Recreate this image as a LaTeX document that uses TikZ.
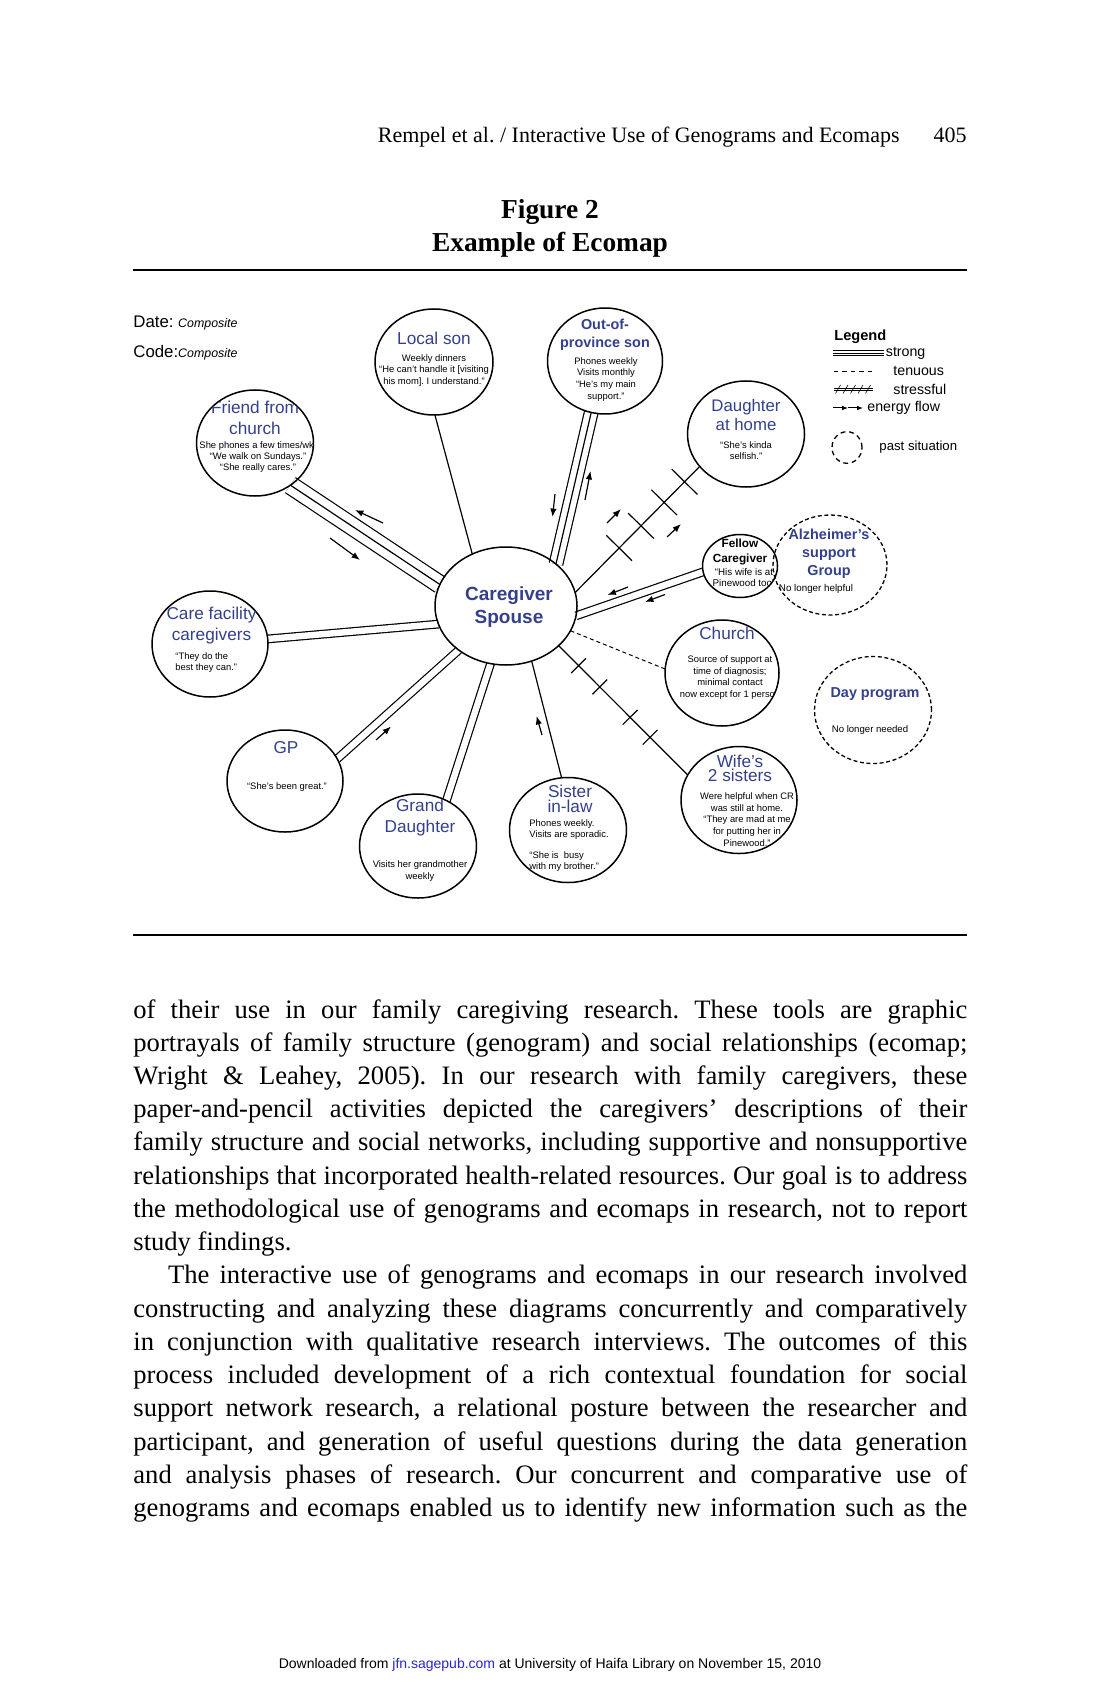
\documentclass[tikz,border=0pt]{standalone}
\usepackage{fontspec}
\setmainfont{Liberation Serif}
\newfontfamily\arial{Liberation Sans}
\usetikzlibrary{shapes.geometric,arrows.meta,decorations.markings,backgrounds}
\definecolor{nb}{RGB}{52,64,140}
\definecolor{linkblue}{RGB}{40,40,200}
\frenchspacing
\tikzset{
  circ/.style={draw, ellipse, line width=0.75pt, inner sep=0pt, outer sep=0pt},
  pastc/.style={circ, line width=0.65pt, dash pattern=on 2pt off 1.3pt},
  conn/.style={line width=0.6pt},
  dbl/.style={conn, double, double distance=3.2pt},
  tenu/.style={line width=0.5pt, dash pattern=on 2pt off 1.5pt},
  flow/.style={line width=0.6pt, -{Latex[length=4.2pt,width=3.2pt]}},
  ttl/.style={font=\arial\fontsize{8.6}{10.2}\selectfont, text=nb, inner sep=0pt, align=center},
  bttl/.style={font=\arial\bfseries\fontsize{7.2}{9}\selectfont, text=nb, inner sep=0pt, align=center},
  sml/.style={font=\arial\fontsize{4.7}{5.8}\selectfont, inner sep=0pt, align=center},
  lgd/.style={font=\arial\fontsize{7.1}{8}\selectfont, inner sep=0pt, anchor=west},
}
\begin{document}
\begin{tikzpicture}[x=0.5pt,y=-0.5pt]
\useasboundingbox (0,0) rectangle (1100,1700);
\begin{scope}[on background layer]
\fill[white] (0,0) rectangle (1100,1700);
\end{scope}

% ---------- page header ----------
\node[anchor=base east, inner sep=0pt, font=\fontsize{11}{13}\selectfont] (hd) at (900,143) {Rempel et al. / Interactive Use of Genograms and Ecomaps};
\node[anchor=base east, inner sep=0pt, font=\fontsize{11}{13}\selectfont] (pg) at (967,143) {405};
\node[anchor=base, inner sep=0pt, font=\bfseries\fontsize{13.7}{16}\selectfont] (fg) at (550,219) {Figure 2};
\node[anchor=base, inner sep=0pt, font=\bfseries\fontsize{13.7}{16}\selectfont] (fgt) at (550,252) {Example of Ecomap};
\draw[line width=1pt] (133,270) -- (967,270);
\draw[line width=1pt] (133,935) -- (967,935);

% ---------- date / code ----------
\node[anchor=west, inner sep=0pt, font=\arial\fontsize{8.4}{10}\selectfont] (dt) at (133,323) {Date: {\itshape\fontsize{6.2}{7}\selectfont Composite}};
\node[anchor=west, inner sep=0pt, font=\arial\fontsize{8.4}{10}\selectfont] (cd) at (133,353) {Code:{\itshape\fontsize{6.2}{7}\selectfont Composite}};

% ---------- circles ----------
\node[circ, minimum width=59pt, minimum height=53pt] (ls) at (434,362) {};
\begin{scope}
\clip (434,362) ellipse [x radius=29.3pt, y radius=26.3pt];
\node[ttl] (lsT) at (434,338) {Local son};
\node[sml] (lsS) at (434,370.5) {Weekly dinners\\“He can’t handle it [visiting\\his mom]. I understand.”};
\end{scope}

\node[circ, minimum width=57.5pt, minimum height=53pt] (op) at (605,361) {};
\begin{scope}
\clip (605,361) ellipse [x radius=28.6pt, y radius=26.3pt];
\node[bttl, font=\arial\bfseries\fontsize{7.2}{9.2}\selectfont] (opT) at (605,334.5) {Out-of-\\province son};
\node[sml, font=\arial\fontsize{4.7}{5.95}\selectfont] (opS) at (606,379.5) {Phones weekly\\Visits monthly\\“He’s my main\\support.”};
\end{scope}

\node[circ, minimum width=58.5pt, minimum height=53pt] (dh) at (746,434) {};
\begin{scope}
\clip (746,434) ellipse [x radius=29.1pt, y radius=26.3pt];
\node[ttl, font=\arial\fontsize{8.4}{9.5}\selectfont] (dhT) at (746,414.5) {Daughter\\at home};
\node[sml] (dhS) at (746,450.5) {“She’s kinda\\selfish.”};
\end{scope}

\node[circ, minimum width=58.5pt, minimum height=53pt] (fr) at (255,443) {};
\begin{scope}
\clip (255,443) ellipse [x radius=29.1pt, y radius=26.3pt];
\node[ttl] (frT) at (255,418) {Friend from\\church};
\node[sml, font=\arial\fontsize{4.7}{5.5}\selectfont] (frS) at (258,457) {She phones a few times/wk.\\“We walk on Sundays.”\\“She really cares.”};
\end{scope}

\node[circ, minimum width=71pt, minimum height=59pt] (cg) at (506,606) {};
\node[bttl, font=\arial\bfseries\fontsize{9.5}{11.5}\selectfont] (cgT) at (509,607.5) {Caregiver\\Spouse};

\node[circ, minimum width=58pt, minimum height=53pt] (cf) at (210,644) {};
\begin{scope}
\clip (210,644) ellipse [x radius=28.8pt, y radius=26.3pt];
\node[ttl, font=\arial\fontsize{8.6}{10.5}\selectfont] (cfT) at (211.5,625.5) {Care facility\\caregivers};
\node[sml, anchor=west, align=left] (cfS) at (175,662.5) {“They do the\\best they can.”};
\end{scope}

\node[circ, minimum width=58pt, minimum height=51pt] (gp) at (285,781) {};
\begin{scope}
\clip (285,781) ellipse [x radius=28.8pt, y radius=25.3pt];
\node[ttl] (gpT) at (286,748) {GP};
\node[sml] (gpS) at (287,787) {“She’s been great.”};
\end{scope}

\node[circ, minimum width=58.5pt, minimum height=52pt] (gd) at (418,846) {};
\begin{scope}
\clip (418,846) ellipse [x radius=29.1pt, y radius=25.8pt];
\node[ttl, font=\arial\fontsize{8.6}{10.5}\selectfont] (gdT) at (420,817.5) {Grand\\Daughter};
\node[sml, font=\arial\fontsize{4.7}{6}\selectfont] (gdS) at (420,871) {Visits her grandmother\\weekly};
\end{scope}

\node[circ, minimum width=58.5pt, minimum height=52.5pt] (si) at (568,830) {};
\begin{scope}
\clip (568,830) ellipse [x radius=29.1pt, y radius=26pt];
\node[ttl, font=\arial\fontsize{8.6}{7.5}\selectfont] (siT) at (570,798.5) {Sister\\in-law};
\node[sml, font=\arial\fontsize{4.7}{5.4}\selectfont, anchor=west, align=left] (siS) at (529,845.5) {Phones weekly.\\Visits are sporadic.\\[5.4pt]“She is\ \ busy\\with my brother.”};
\end{scope}

\node[circ, minimum width=58pt, minimum height=53.5pt] (wf) at (739,800) {};
\begin{scope}
\clip (739,800) ellipse [x radius=28.8pt, y radius=26.5pt];
\node[ttl, font=\arial\fontsize{8.6}{7}\selectfont] (wfT) at (740,768) {Wife’s\\2 sisters};
\node[sml, font=\arial\fontsize{4.7}{5.9}\selectfont] (wfS) at (747,819.5) {Were helpful when CR\\was still at home.\\“They are mad at me\\for putting her in\\Pinewood.”};
\end{scope}

\node[circ, minimum width=57pt, minimum height=53pt] (ch) at (722,673) {};
\begin{scope}
\clip (722,673) ellipse [x radius=28.3pt, y radius=26.3pt];
\node[ttl] (chT) at (727,633) {Church};
\node[sml] (chS) at (730,677.5) {Source of support at\\time of diagnosis;\\minimal contact\\now except for 1 person};
\end{scope}

\node[circ, minimum width=37.5pt, minimum height=31.5pt] (fc) at (740,566) {};
\begin{scope}
\clip (740,566) ellipse [x radius=18.6pt, y radius=15.6pt];
\node[inner sep=0pt, align=center, font=\arial\bfseries\fontsize{5.9}{7.5}\selectfont] (fcT) at (740,551.5) {Fellow\\Caregiver};
\node[sml, font=\arial\fontsize{4.9}{5.5}\selectfont] (fcS) at (744,577.5) {“His wife is at\\Pinewood too”};
\end{scope}

\node[pastc, minimum width=57pt, minimum height=50pt] (az) at (830,565) {};
\begin{scope}
\clip (830,565) ellipse [x radius=28.4pt, y radius=24.9pt];
\node[bttl] (azT) at (829,554) {Alzheimer’s\\support\\Group};
\node[sml, font=\arial\fontsize{4.9}{5.8}\selectfont] (azS) at (816,589) {No longer helpful};
\end{scope}

\node[pastc, minimum width=58.5pt, minimum height=53.5pt] (dp) at (873,710) {};
\node[bttl] (dpT) at (875,694) {Day program};
\node[sml, font=\arial\fontsize{4.8}{5.8}\selectfont] (dpS) at (870,730) {No longer needed};

% ---------- connectors ----------
\begin{scope}[on background layer]
\draw[conn] (ls.-89) -- (cg.123);
\draw[conn, double, double distance=6.2pt] (op.-105) -- (cg.40.7);
\draw[conn] (op.-105) -- (cg.40.7);
\draw[conn, double, double distance=8.4pt] (fr.-50.6) -- (cg.162.8);
\draw[conn] (fr.-50.6) -- (cg.162.8);
\draw[dbl] (cf.5.7) -- (cg.195);
\draw[dbl] (fc.189) -- (cg.352);
\draw[dbl] (gp.23.6) -- (cg.223.7);
\draw[dbl] (gd.58.9) -- (cg.255);
\draw[conn] (si.97.5) -- (cg.295.7);
\draw[tenu] (cg.339) -- (ch.176.8);
\draw[conn, postaction={decorate}, decoration={markings,
   mark=at position 0.354 with {\draw[conn] (0,-9pt) -- (0,9pt);},
   mark=at position 0.53 with {\draw[conn] (0,-9pt) -- (0,9pt);},
   mark=at position 0.716 with {\draw[conn] (0,-9pt) -- (0,9pt);},
   mark=at position 0.88 with {\draw[conn] (0,-9pt) -- (0,9pt);}}]
   (cg.11.5) -- (dh.215);
\draw[conn, postaction={decorate}, decoration={markings,
   mark=at position 0.155 with {\draw[conn] (0,-5.2pt) -- (0,5.2pt);},
   mark=at position 0.32 with {\draw[conn] (0,-5.2pt) -- (0,5.2pt);},
   mark=at position 0.555 with {\draw[conn] (0,-5.2pt) -- (0,5.2pt);},
   mark=at position 0.71 with {\draw[conn] (0,-5.2pt) -- (0,5.2pt);}}]
   (cg.323) -- (wf.154.3);
\end{scope}

% ---------- energy flow arrows ----------
\coordinate (f1a) at (383,523); \coordinate (f1b) at (355,510);
\coordinate (f2a) at (330,538); \coordinate (f2b) at (360,560);
\coordinate (f3a) at (555,494); \coordinate (f3b) at (552.5,517);
\coordinate (f4a) at (585,500); \coordinate (f4b) at (590.5,471);
\coordinate (f5a) at (607,523); \coordinate (f5b) at (621,509);
\coordinate (f6a) at (667,537); \coordinate (f6b) at (681,524);
\coordinate (f7a) at (628,587); \coordinate (f7b) at (607.5,595);
\coordinate (f8a) at (665,594.5); \coordinate (f8b) at (645,602);
\coordinate (f9a) at (376,740); \coordinate (f9b) at (391,726.5);
\coordinate (f10a) at (542,735); \coordinate (f10b) at (536.5,716);
\foreach \k in {1,...,10} \draw[flow] (f\k a) -- (f\k b);

% ---------- legend ----------
\node[lgd, font=\arial\bfseries\fontsize{7.3}{8}\selectfont] (lgT) at (834,337) {Legend};
\foreach \yy in {350.5,353,355.5} \draw[line width=0.3pt] (833,\yy) -- (884,\yy);
\node[lgd] (lg1) at (885.5,353) {strong};
\draw[line width=0.45pt, dash pattern=on 2.2pt off 2pt] (834,371) -- (873,371);
\node[lgd] (lg2) at (893,371) {tenuous};
\draw[line width=0.3pt] (834,388) -- (873,388);
\draw[line width=0.3pt] (834,390.5) -- (873,390.5);
\foreach \xx in {838,845.5,853,860.5,868} \draw[line width=0.3pt] (\xx-2.5,393.5) -- (\xx+2.5,385);
\node[lgd] (lg3) at (893,389) {stressful};
\coordinate (e1) at (833,408); \coordinate (e2) at (848,408); \coordinate (e3) at (863,408);
\draw[line width=0.5pt, -{Latex[length=3pt,width=2.4pt]}] (e1) -- (e2);
\draw[line width=0.5pt, -{Latex[length=3pt,width=2.4pt]}] (e2) -- (e3);
\node[lgd] (lg4) at (867,408) {energy flow};
\node[pastc, minimum width=15pt, minimum height=15.8pt, dash pattern=on 2.4pt off 1.9pt] (lgc) at (847,447.5) {};
\node[lgd, font=\arial\fontsize{6.6}{8}\selectfont] (lg5) at (879,447) {past situation};

% ---------- body text ----------
\node[anchor=base west, inner sep=0pt] (body) at (133,1018) {\parbox[t]{417pt}{\fontsize{13.3}{16.62}\selectfont\frenchspacing
\tolerance=10000 \pretolerance=-1 \hyphenpenalty=10000 \exhyphenpenalty=10000
\noindent of their use in our family caregiving research. These tools are graphic\linebreak
portrayals of family structure (genogram) and social relationships (ecomap;\linebreak
Wright \& Leahey, 2005). In our research with family caregivers, these\linebreak
paper-and-pencil activities depicted the caregivers’ descriptions of their\linebreak
family structure and social networks, including supportive and nonsupportive\linebreak
relationships that incorporated health-related resources. Our goal is to address\linebreak
the methodological use of genograms and ecomaps in research, not to report\linebreak
study findings.\par
\noindent\hspace*{17.3pt}The interactive use of genograms and ecomaps in our research involved\linebreak
constructing and analyzing these diagrams concurrently and comparatively\linebreak
in conjunction with qualitative research interviews. The outcomes of this\linebreak
process included development of a rich contextual foundation for social\linebreak
support network research, a relational posture between the researcher and\linebreak
participant, and generation of useful questions during the data generation\linebreak
and analysis phases of research. Our concurrent and comparative use of\linebreak
genograms and ecomaps enabled us to identify new information such as the\parfillskip=0pt\par}};

% ---------- footer ----------
\node[anchor=base, inner sep=0pt, font=\arial\fontsize{7}{8}\selectfont] (ft) at (550,1668) {Downloaded from \textcolor{linkblue}{jfn.sagepub.com} at University of Haifa Library on November 15, 2010};
\end{tikzpicture}
\end{document}
